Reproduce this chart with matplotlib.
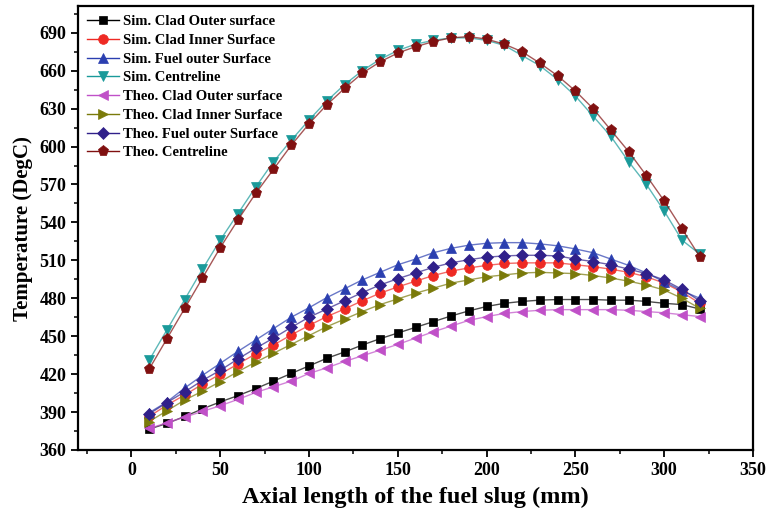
import numpy as np
import matplotlib
matplotlib.use('Agg')
import matplotlib.pyplot as plt
from matplotlib.ticker import MultipleLocator

# ---------------------------------------------------------------------
#  Dados: temperatura ao longo do comprimento axial da barra
# ---------------------------------------------------------------------

axial_mm = np.arange(10, 330, 10)

sim_clad_outer = [376.5, 381, 386.5, 392.5, 398, 403, 408.5, 414.5, 420.5, 426.5, 432.5, 437.5,
                  443, 448, 452.5, 457, 461.5, 466, 470, 473.5, 476, 477.5, 478.5, 479,
                  479, 479, 478.5, 478.5, 477.5, 476, 475, 471.5]
sim_clad_inner = [386.5, 395.5, 403.5, 412, 420, 428, 436, 443, 451, 458.5, 465.5, 471.5,
                  478, 484, 489, 493.5, 498, 501.5, 504, 506, 507.5, 508, 508, 508,
                  506.5, 505, 503, 500.5, 497, 492, 485, 476]
sim_fuel_outer = [389.5, 398, 409, 419, 428.5, 438, 447, 456, 465, 472.5, 480.5, 487.5,
                  494.5, 500.5, 506.5, 511, 516, 519.5, 522, 523.5, 524, 524, 523, 521.5,
                  519, 516, 511, 506, 500, 493, 486, 480]
sim_centre = [431, 455, 479, 503, 526, 547, 568, 588, 605, 621, 636, 649,
              660, 669, 676, 681, 684, 686, 686, 684, 680, 672, 664, 653,
              640, 624, 608, 588, 570, 549, 526, 515]
theo_clad_outer = [377, 381.5, 386, 390.5, 395, 400, 405.5, 410, 414.5, 420.5, 425, 430,
                   434.5, 439, 443.5, 448.5, 453.5, 458, 462.5, 465.5, 468, 469.5, 470.5, 471,
                   471, 471, 471, 470.5, 469.5, 468.5, 467, 465.5]
theo_clad_inner = [382.5, 391, 399.5, 406.5, 414, 422, 429.5, 436.5, 443.5, 450.5, 457.5, 463.5,
                   469.5, 475, 479.5, 484, 488, 492, 494.5, 497, 498.5, 500, 500.5, 500,
                   499.5, 498, 496, 493.5, 490.5, 486.5, 480, 472]
theo_fuel_outer = [388.5, 397.5, 406, 415, 423, 432, 440.5, 448.5, 457, 465, 471.5, 478,
                   484.5, 490.5, 495.5, 500, 504.5, 508, 510.5, 512.5, 513.5, 514, 514, 513.5,
                   511, 509, 506.5, 503, 499.5, 494.5, 487, 478]
theo_centre = [424, 448, 472, 496, 520, 542, 563, 582, 601, 618, 633, 646,
               658, 667, 674, 679, 683, 686, 687, 685, 681, 675, 666, 656,
               644, 630, 613, 596, 577, 557, 535, 513]

series_labels = ['Sim. Clad Outer surface', 'Sim. Clad Inner Surface',
                 'Sim. Fuel outer Surface', 'Sim. Centreline',
                 'Theo. Clad Outer surface', 'Theo. Clad Inner Surface',
                 'Theo. Fuel outer Surface', 'Theo. Centreline']

# ---------------------------------------------------------------------
#  Estilo
# ---------------------------------------------------------------------

plt.rcParams['font.family'] = 'Liberation Serif'
plt.rcParams['font.weight'] = 'bold'

cores = ['#000000', '#ee2a24', '#2b3fb0', '#1a9a9a',
         '#c050c8', '#7a7a0a', '#30208a', '#801010']
marcadores = ['s', 'o', '^', 'v', '<', '>', 'D', 'p']
tamanhos = [5.5, 7, 7.5, 7.5, 7.5, 7.5, 6, 8]

fig = plt.figure(figsize=(7.66, 5.19), dpi=100)
ax = fig.add_axes([0.102, 0.133, 0.881, 0.855])

todas = [sim_clad_outer, sim_clad_inner, sim_fuel_outer, sim_centre,
         theo_clad_outer, theo_clad_inner, theo_fuel_outer, theo_centre]

for valores, rotulo, cor, mk, ms in zip(todas, series_labels, cores, marcadores, tamanhos):
    # linha mais clara que o marcador
    ax.plot(axial_mm, valores, color=cor, linewidth=1.0, alpha=0.7)
    ax.plot(axial_mm, valores, color=cor, marker=mk, markersize=ms, linestyle='none',
            markeredgewidth=0.5)
    ax.plot([], [], color=cor, marker=mk, markersize=ms, linewidth=1.0,
            markeredgewidth=0.5, label=rotulo)

ax.set_xlim(-30, 350)
ax.set_ylim(360, 711)
ax.xaxis.set_major_locator(MultipleLocator(50))
ax.xaxis.set_minor_locator(MultipleLocator(25))
ax.yaxis.set_major_locator(MultipleLocator(30))
ax.yaxis.set_minor_locator(MultipleLocator(15))
ax.tick_params(which='major', direction='out', length=5, width=1.3, labelsize=13)
ax.tick_params(which='minor', direction='out', length=3, width=1.1)
for s in ax.spines.values():
    s.set_linewidth(1.6)
for lbl in ax.get_xticklabels() + ax.get_yticklabels():
    lbl.set_fontweight('bold')

ax.set_xlabel('Axial length of the fuel slug (mm)', fontsize=17.5, fontweight='bold', labelpad=6)
ax.set_ylabel('Temperature (DegC)', fontsize=15, fontweight='bold', labelpad=5)

ax.legend(loc='upper left', frameon=False, handlelength=2.2,
          labelspacing=0.38, handletextpad=0.3, borderaxespad=0.2,
          prop={'weight': 'bold', 'size': 10.5})

plt.savefig('out.png', dpi=100)
